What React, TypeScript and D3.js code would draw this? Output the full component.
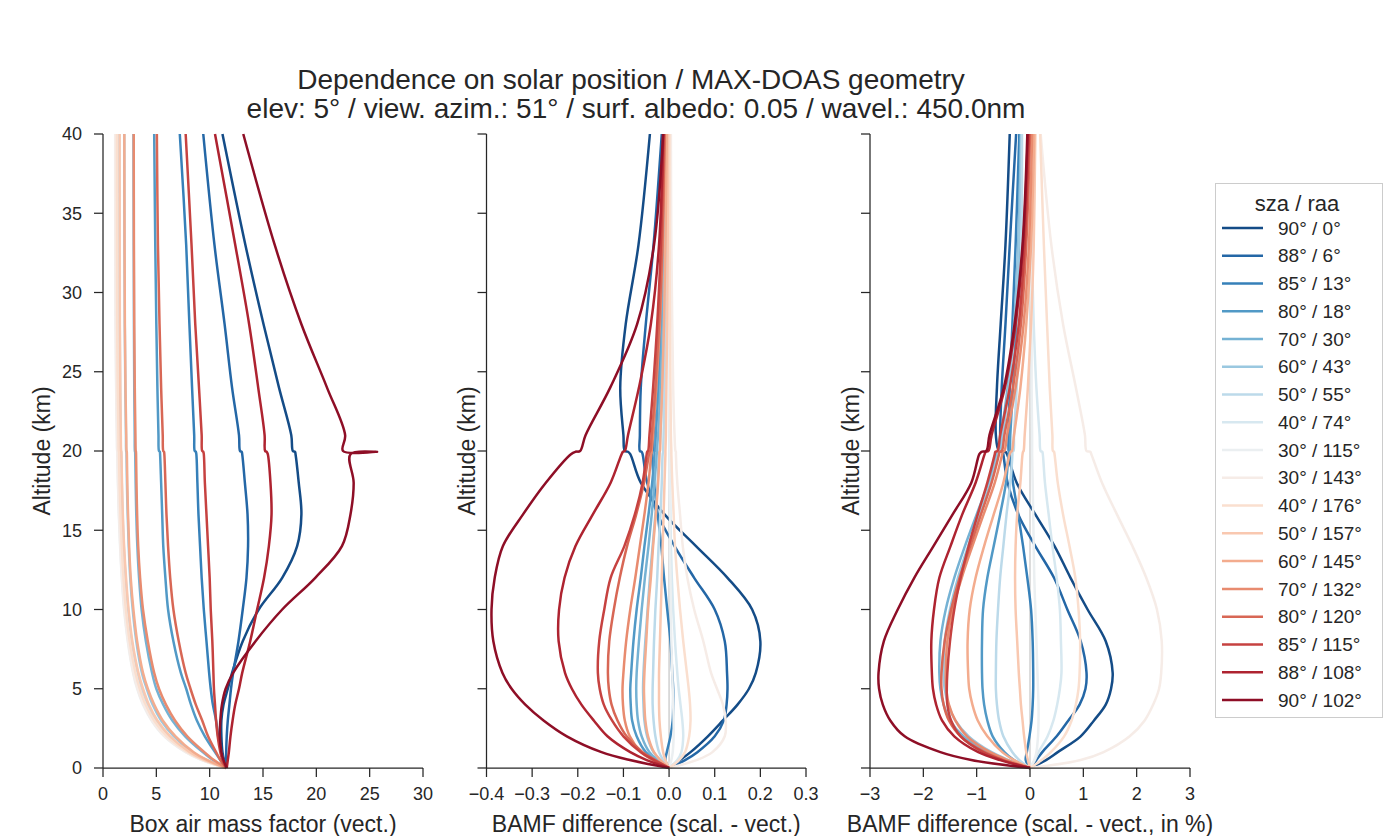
import React from 'react';
import * as d3 from 'd3';

// altitude grid (km) shared by every profile
const ALTITUDES = [0, 0.5, 1, 2, 3, 4, 5, 6, 8, 10, 12, 14, 16, 18, 19.8, 19.95, 20, 21, 24, 28, 33, 40];

const LABELS = [
  '90° / 0°', '88° / 6°', '85° / 13°', '80° / 18°', '70° / 30°', '60° / 43°',
  '50° / 55°', '40° / 74°', '30° / 115°', '30° / 143°', '40° / 176°', '50° / 157°',
  '60° / 145°', '70° / 132°', '80° / 120°', '85° / 115°', '88° / 108°', '90° / 102°',
];

// Box air mass factor (vect.)
const bamfVect = [
  [11.6, 11.35, 11.2, 11.1, 11.1, 11.3, 11.7, 12.1, 13.1, 14.6, 16.8, 18.2, 18.6, 18.35, 18.05, 18.0, 17.8, 17.65, 16.5, 15.05, 13.35, 11.2],
  [11.6, 11.55, 11.55, 11.6, 11.7, 11.85, 12.0, 12.2, 12.7, 13.1, 13.45, 13.6, 13.55, 13.3, 13.05, 13.0, 12.85, 12.75, 12.1, 11.4, 10.45, 9.4],
  [11.55, 11.3, 11.1, 10.8, 10.6, 10.3, 10.1, 9.95, 9.7, 9.45, 9.25, 9.1, 8.95, 8.85, 8.75, 8.7, 8.6, 8.55, 8.35, 8.1, 7.8, 7.2],
  [11.55, 11.0, 10.5, 9.55, 8.8, 8.25, 7.8, 7.3, 6.6, 6.1, 5.85, 5.65, 5.55, 5.45, 5.35, 5.33, 5.25, 5.2, 5.1, 5.0, 4.9, 4.8],
  [11.55, 10.3, 9.35, 7.7, 6.5, 5.65, 5.0, 4.6, 4.02, 3.62, 3.38, 3.22, 3.12, 3.06, 3.02, 3.01, 2.99, 2.97, 2.93, 2.9, 2.88, 2.86],
  [11.55, 9.7, 8.4, 6.65, 5.45, 4.65, 4.1, 3.65, 3.12, 2.78, 2.55, 2.41, 2.31, 2.24, 2.2, 2.19, 2.17, 2.15, 2.09, 2.04, 2.01, 1.99],
  [11.55, 9.5, 8.1, 6.2, 5.0, 4.2, 3.65, 3.25, 2.7, 2.36, 2.12, 1.95, 1.84, 1.76, 1.71, 1.7, 1.68, 1.66, 1.61, 1.57, 1.56, 1.55],
  [11.55, 9.35, 7.9, 5.95, 4.75, 3.95, 3.4, 3.0, 2.46, 2.12, 1.9, 1.74, 1.62, 1.53, 1.48, 1.48, 1.46, 1.43, 1.37, 1.32, 1.3, 1.29],
  [11.55, 9.25, 7.75, 5.75, 4.55, 3.75, 3.2, 2.82, 2.32, 1.98, 1.76, 1.6, 1.48, 1.4, 1.35, 1.35, 1.33, 1.3, 1.23, 1.18, 1.15, 1.14],
  [11.55, 9.3, 7.8, 5.8, 4.6, 3.8, 3.25, 2.85, 2.35, 2.0, 1.78, 1.62, 1.5, 1.41, 1.36, 1.36, 1.34, 1.31, 1.24, 1.19, 1.16, 1.15],
  [11.55, 9.4, 7.95, 6.0, 4.8, 4.0, 3.45, 3.05, 2.5, 2.15, 1.92, 1.76, 1.64, 1.55, 1.5, 1.5, 1.48, 1.45, 1.38, 1.33, 1.31, 1.3],
  [11.55, 9.55, 8.15, 6.3, 5.1, 4.3, 3.75, 3.32, 2.75, 2.4, 2.16, 1.98, 1.86, 1.78, 1.73, 1.72, 1.7, 1.67, 1.62, 1.58, 1.57, 1.56],
  [11.55, 9.8, 8.5, 6.8, 5.6, 4.8, 4.2, 3.75, 3.2, 2.85, 2.6, 2.45, 2.35, 2.28, 2.24, 2.23, 2.21, 2.18, 2.11, 2.05, 2.02, 2.0],
  [11.55, 10.4, 9.5, 7.9, 6.75, 5.9, 5.25, 4.8, 4.2, 3.75, 3.48, 3.3, 3.2, 3.14, 3.1, 3.09, 3.07, 3.04, 2.98, 2.93, 2.9, 2.88],
  [11.55, 11.0, 10.6, 9.85, 9.3, 8.7, 8.2, 7.75, 7.1, 6.6, 6.3, 6.1, 5.95, 5.85, 5.75, 5.72, 5.65, 5.6, 5.45, 5.3, 5.15, 5.05],
  [11.55, 11.2, 11.0, 10.75, 10.6, 10.5, 10.4, 10.35, 10.25, 10.1, 10.0, 9.85, 9.7, 9.55, 9.45, 9.4, 9.3, 9.25, 9.0, 8.65, 8.3, 7.75],
  [11.6, 11.7, 11.8, 11.95, 12.15, 12.4, 12.75, 13.05, 13.8, 14.45, 15.1, 15.55, 15.8, 15.7, 15.45, 15.35, 15.2, 15.15, 14.55, 13.7, 12.4, 10.5],
  [11.6, 11.3, 11.1, 10.95, 11.0, 11.15, 11.5, 12.2, 14.3, 16.8, 19.9, 22.4, 23.2, 23.5, 23.2, 25.7, 22.5, 22.7, 21.0, 18.6, 16.1, 13.15],
];

// BAMF difference (scal. - vect.)
const bamfDiff = [
  [0, 0.024, 0.047, 0.085, 0.118, 0.15, 0.175, 0.19, 0.2, 0.182, 0.128, 0.059, -0.01, -0.062, -0.085, -0.09, -0.097, -0.1, -0.107, -0.095, -0.067, -0.042],
  [0, 0.035, 0.062, 0.1, 0.12, 0.126, 0.128, 0.127, 0.122, 0.1, 0.055, 0.012, -0.025, -0.048, -0.058, -0.06, -0.064, -0.064, -0.062, -0.051, -0.034, -0.016],
  [0, -0.008, -0.005, 0.003, 0.008, 0.009, 0.009, 0.007, 0.003, -0.004, -0.011, -0.017, -0.025, -0.033, -0.038, -0.039, -0.036, -0.034, -0.028, -0.022, -0.016, -0.011],
  [0, -0.03, -0.051, -0.071, -0.081, -0.084, -0.085, -0.083, -0.078, -0.071, -0.062, -0.054, -0.045, -0.037, -0.032, -0.032, -0.031, -0.029, -0.023, -0.017, -0.012, -0.008],
  [0, -0.025, -0.043, -0.06, -0.068, -0.071, -0.072, -0.071, -0.066, -0.06, -0.053, -0.045, -0.038, -0.032, -0.027, -0.027, -0.027, -0.024, -0.019, -0.014, -0.01, -0.006],
  [0, -0.02, -0.034, -0.048, -0.054, -0.056, -0.057, -0.056, -0.052, -0.047, -0.042, -0.036, -0.03, -0.025, -0.022, -0.021, -0.021, -0.019, -0.015, -0.011, -0.008, -0.005],
  [0, -0.013, -0.022, -0.03, -0.034, -0.036, -0.036, -0.035, -0.033, -0.03, -0.026, -0.023, -0.019, -0.016, -0.014, -0.013, -0.013, -0.012, -0.01, -0.007, -0.005, -0.003],
  [0, 0.018, 0.027, 0.031, 0.029, 0.025, 0.021, 0.018, 0.013, 0.009, 0.006, 0.004, 0.003, 0.002, 0.001, 0.001, 0.001, 0.001, 0, 0, 0, 0],
  [0, 0.005, 0.008, 0.01, 0.01, 0.009, 0.008, 0.007, 0.005, 0.004, 0.003, 0.002, 0.002, 0.001, 0.001, 0.001, 0.001, 0.001, 0, 0, 0, 0],
  [0, 0.06, 0.095, 0.122, 0.124, 0.118, 0.105, 0.092, 0.075, 0.055, 0.04, 0.03, 0.024, 0.018, 0.015, 0.015, 0.014, 0.012, 0.009, 0.007, 0.005, 0.004],
  [0, 0.022, 0.035, 0.044, 0.047, 0.046, 0.043, 0.039, 0.031, 0.024, 0.018, 0.013, 0.01, 0.007, 0.005, 0.005, 0.005, 0.004, 0.003, 0.002, 0.001, 0.001],
  [0, -0.008, -0.013, -0.018, -0.021, -0.022, -0.022, -0.022, -0.02, -0.018, -0.016, -0.014, -0.012, -0.01, -0.008, -0.008, -0.008, -0.007, -0.006, -0.004, -0.003, -0.002],
  [0, -0.019, -0.033, -0.046, -0.052, -0.054, -0.055, -0.054, -0.05, -0.046, -0.04, -0.035, -0.029, -0.024, -0.021, -0.021, -0.02, -0.019, -0.015, -0.011, -0.008, -0.005],
  [0, -0.036, -0.061, -0.086, -0.097, -0.101, -0.102, -0.1, -0.094, -0.085, -0.074, -0.064, -0.054, -0.045, -0.039, -0.038, -0.038, -0.035, -0.028, -0.02, -0.014, -0.009],
  [0, -0.03, -0.058, -0.093, -0.113, -0.126, -0.132, -0.134, -0.131, -0.121, -0.108, -0.092, -0.072, -0.055, -0.044, -0.043, -0.041, -0.038, -0.03, -0.022, -0.015, -0.01],
  [0, -0.033, -0.062, -0.1, -0.125, -0.143, -0.152, -0.156, -0.153, -0.142, -0.128, -0.098, -0.075, -0.058, -0.049, -0.048, -0.046, -0.043, -0.035, -0.026, -0.018, -0.012],
  [0, -0.049, -0.085, -0.135, -0.165, -0.192, -0.213, -0.228, -0.242, -0.241, -0.229, -0.205, -0.167, -0.128, -0.104, -0.101, -0.097, -0.09, -0.066, -0.04, -0.022, -0.013],
  [0, -0.086, -0.148, -0.224, -0.275, -0.315, -0.345, -0.365, -0.385, -0.389, -0.382, -0.364, -0.32, -0.27, -0.215, -0.205, -0.195, -0.183, -0.129, -0.07, -0.033, -0.013],
];

// BAMF difference (scal. - vect., in %)
const bamfDiffPct = [
  [0, 0.3, 0.52, 0.95, 1.2, 1.42, 1.52, 1.55, 1.42, 1.08, 0.76, 0.46, 0.1, -0.25, -0.43, -0.46, -0.58, -0.64, -0.62, -0.55, -0.46, -0.38],
  [0, 0.12, 0.23, 0.5, 0.72, 0.93, 1.04, 1.06, 0.95, 0.7, 0.45, 0.1, -0.22, -0.42, -0.5, -0.51, -0.55, -0.56, -0.53, -0.46, -0.38, -0.26],
  [0, -0.08, -0.06, -0.01, 0.03, 0.05, 0.06, 0.06, 0.05, 0.02, -0.05, -0.13, -0.22, -0.32, -0.38, -0.39, -0.4, -0.4, -0.38, -0.33, -0.27, -0.2],
  [0, -0.3, -0.48, -0.7, -0.8, -0.86, -0.89, -0.9, -0.9, -0.88, -0.8, -0.68, -0.56, -0.45, -0.4, -0.39, -0.38, -0.37, -0.32, -0.26, -0.21, -0.18],
  [0, -0.45, -0.8, -1.25, -1.5, -1.62, -1.68, -1.7, -1.68, -1.58, -1.42, -1.22, -1.0, -0.78, -0.63, -0.62, -0.58, -0.54, -0.42, -0.3, -0.22, -0.17],
  [0, -0.4, -0.72, -1.15, -1.4, -1.53, -1.6, -1.62, -1.6, -1.5, -1.35, -1.16, -0.95, -0.74, -0.6, -0.59, -0.55, -0.51, -0.4, -0.29, -0.21, -0.16],
  [0, -0.2, -0.33, -0.5, -0.58, -0.62, -0.64, -0.64, -0.63, -0.6, -0.56, -0.5, -0.44, -0.37, -0.33, -0.33, -0.31, -0.3, -0.25, -0.2, -0.16, -0.15],
  [0, 0.09, 0.16, 0.33, 0.44, 0.51, 0.56, 0.59, 0.58, 0.56, 0.5, 0.42, 0.35, 0.28, 0.24, 0.23, 0.2, 0.18, 0.12, 0.07, 0.03, 0.0],
  [0, 0.08, 0.12, 0.15, 0.16, 0.16, 0.15, 0.14, 0.12, 0.1, 0.08, 0.07, 0.06, 0.05, 0.04, 0.04, 0.04, 0.04, 0.03, 0.03, 0.02, 0.02],
  [0, 0.95, 1.38, 1.87, 2.15, 2.31, 2.42, 2.46, 2.47, 2.38, 2.18, 1.92, 1.63, 1.35, 1.15, 1.13, 1.06, 1.03, 0.86, 0.62, 0.4, 0.2],
  [0, 0.22, 0.39, 0.64, 0.78, 0.86, 0.91, 0.93, 0.94, 0.91, 0.85, 0.74, 0.62, 0.52, 0.46, 0.45, 0.43, 0.42, 0.37, 0.32, 0.26, 0.19],
  [0, -0.04, -0.07, -0.11, -0.14, -0.17, -0.19, -0.21, -0.24, -0.27, -0.28, -0.27, -0.24, -0.18, -0.14, -0.13, -0.12, -0.1, -0.04, 0.02, 0.07, 0.1],
  [0, -0.3, -0.52, -0.8, -0.98, -1.08, -1.14, -1.16, -1.17, -1.13, -1.02, -0.86, -0.68, -0.5, -0.38, -0.36, -0.34, -0.3, -0.18, -0.07, 0.02, 0.08],
  [0, -0.42, -0.75, -1.18, -1.4, -1.52, -1.57, -1.58, -1.55, -1.45, -1.28, -1.08, -0.87, -0.66, -0.52, -0.51, -0.48, -0.43, -0.27, -0.12, -0.02, 0.04],
  [0, -0.5, -0.85, -1.3, -1.52, -1.62, -1.66, -1.66, -1.6, -1.48, -1.32, -1.12, -0.92, -0.72, -0.58, -0.57, -0.53, -0.48, -0.32, -0.17, -0.07, 0.0],
  [0, -0.52, -0.88, -1.3, -1.48, -1.55, -1.56, -1.55, -1.5, -1.42, -1.3, -1.15, -0.98, -0.8, -0.66, -0.65, -0.61, -0.56, -0.38, -0.21, -0.1, -0.02],
  [0, -0.56, -0.97, -1.42, -1.65, -1.76, -1.82, -1.84, -1.85, -1.8, -1.7, -1.49, -1.27, -1.02, -0.85, -0.83, -0.78, -0.72, -0.47, -0.27, -0.13, -0.04],
  [0, -1.1, -1.68, -2.35, -2.62, -2.76, -2.83, -2.84, -2.74, -2.48, -2.17, -1.81, -1.45, -1.1, -0.95, -0.91, -0.82, -0.76, -0.49, -0.29, -0.14, -0.05],
];

const ALT_TICKS = [0, 5, 10, 15, 20, 25, 30, 35, 40];
const VECT_TICKS = [0, 5, 10, 15, 20, 25, 30];
const DIFF_TICKS = [-0.4, -0.3, -0.2, -0.1, 0.0, 0.1, 0.2, 0.3];
const PCT_TICKS = [-3, -2, -1, 0, 1, 2, 3];

const FONT = 'Liberation Sans, Arial, sans-serif';
const INK = '#262626';
const TOP = 134;
const BOTTOM = 768;
const TICK = 9;

const color = (i: number) => d3.interpolateRdBu(1 - (i + 1) / 19);

const panels = [
  { data: bamfVect, domain: [0, 30], x0: 103, x1: 423, ticks: VECT_TICKS, fmt: d3.format('d'),
    label: 'Box air mass factor (vect.)', yLabels: true, zero: false },
  { data: bamfDiff, domain: [-0.4, 0.3], x0: 486.5, x1: 806, ticks: DIFF_TICKS, fmt: d3.format('.1f'),
    label: 'BAMF difference (scal. - vect.)', yLabels: false, zero: true },
  { data: bamfDiffPct, domain: [-3, 3], x0: 870, x1: 1190, ticks: PCT_TICKS, fmt: d3.format('d'),
    label: 'BAMF difference (scal. - vect., in %)', yLabels: false, zero: true },
];

const y = d3.scaleLinear().domain([0, 40]).range([BOTTOM, TOP]);

const Panel = ({ p }: { p: typeof panels[number] }) => {
  const x = d3.scaleLinear().domain(p.domain).range([p.x0, p.x1]);
  const line = d3.line<number>()
    .x((v) => x(v))
    .y((_, j) => y(ALTITUDES[j]))
    .curve(d3.curveCatmullRom.alpha(0.5));
  const cx = (p.x0 + p.x1) / 2;
  const labelX = p.yLabels ? p.x0 - 61 : p.x0 - 19.5;
  return (
    <g>
      {p.zero && (
        <line x1={x(0)} x2={x(0)} y1={TOP} y2={BOTTOM} stroke="#d0d0d0" strokeWidth={1.5} />
      )}
      {p.data.map((s, i) => (
        <path key={i} d={line(s) || ''} fill="none" stroke={color(i)} strokeWidth={2.5} />
      ))}
      <line x1={p.x0} x2={p.x0} y1={TOP} y2={BOTTOM} stroke={INK} strokeWidth={1.25} />
      <line x1={p.x0} x2={p.x1} y1={BOTTOM} y2={BOTTOM} stroke={INK} strokeWidth={1.25} />
      {ALT_TICKS.map((t) => (
        <g key={t}>
          <line x1={p.x0 - TICK} x2={p.x0} y1={y(t)} y2={y(t)} stroke={INK} strokeWidth={1.25} />
          {p.yLabels && (
            <text x={p.x0 - 21} y={y(t)} dy="0.35em" textAnchor="end" fontSize={18} fill={INK}>{t}</text>
          )}
        </g>
      ))}
      {p.ticks.map((t) => (
        <g key={t}>
          <line x1={x(t)} x2={x(t)} y1={BOTTOM} y2={BOTTOM + TICK} stroke={INK} strokeWidth={1.25} />
          <text x={x(t)} y={BOTTOM + 32} textAnchor="middle" fontSize={18} fill={INK}>{p.fmt(t)}</text>
        </g>
      ))}
      <text x={cx} y={832} textAnchor="middle" fontSize={23} fill={INK}>{p.label}</text>
      <text transform={`translate(${labelX},${(TOP + BOTTOM) / 2}) rotate(-90)`} dy="0.35em"
        textAnchor="middle" fontSize={23} fill={INK}>Altitude (km)</text>
    </g>
  );
};

const Legend = () => {
  const top = 228;
  const step = 27.76;
  return (
    <g>
      <rect x={1215.5} y={183.5} width={167} height={534} fill="#fff" stroke="#cccccc" strokeWidth={1} />
      <text x={1297} y={211} textAnchor="middle" fontSize={22} fill={INK}>sza / raa</text>
      {LABELS.map((l, i) => (
        <g key={l}>
          <line x1={1222} x2={1263} y1={top + i * step} y2={top + i * step} stroke={color(i)} strokeWidth={2.5} />
          <text x={1278} y={top + i * step} dy="0.35em" fontSize={19} fill={INK}>{l}</text>
        </g>
      ))}
    </g>
  );
};

export default function App() {
  return (
    <svg width={1400} height={836} style={{ position: 'absolute', left: 0, top: 0, background: '#fff' }}
      fontFamily={FONT}>
      <text x={631} y={89} textAnchor="middle" fontSize={28} fill={INK}>
        Dependence on solar position / MAX-DOAS geometry
      </text>
      <text x={636} y={118} textAnchor="middle" fontSize={28} fill={INK}>
        elev: 5° / view. azim.: 51° / surf. albedo: 0.05 / wavel.: 450.0nm
      </text>
      {panels.map((p, i) => <Panel key={i} p={p} />)}
      <Legend />
    </svg>
  );
}
